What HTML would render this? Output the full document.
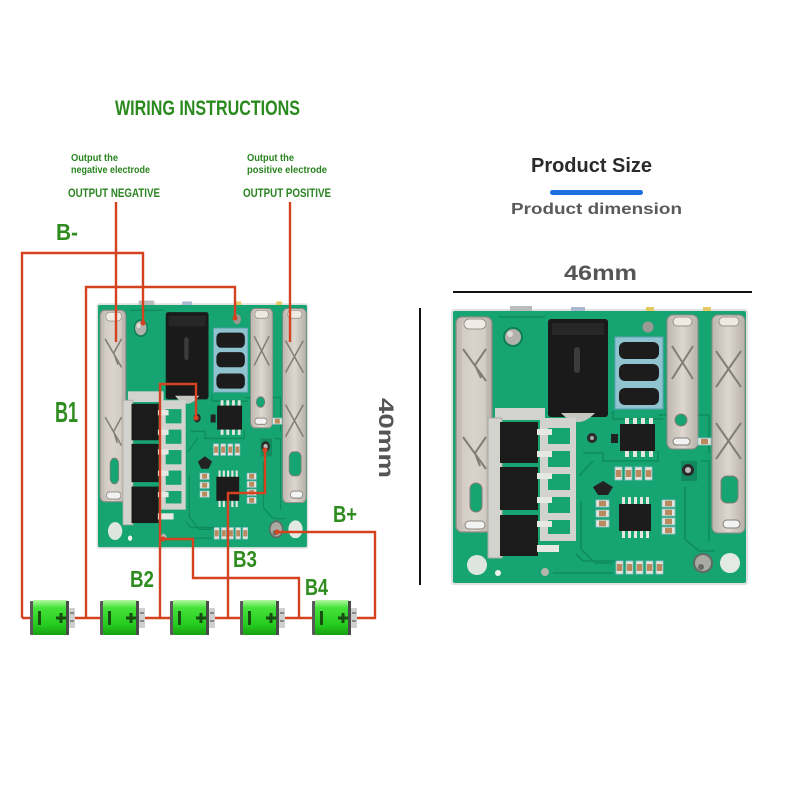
<!DOCTYPE html>
<html><head><meta charset="utf-8"><style>
html,body{margin:0;padding:0;background:#fff;}
svg{display:block;}
text{font-family:"Liberation Sans",sans-serif;}
</style></head><body>
<svg width="800" height="800" viewBox="0 0 800 800" xmlns="http://www.w3.org/2000/svg">
<defs>
<linearGradient id="bg" x1="0" y1="0" x2="0" y2="1">
<stop offset="0" stop-color="#b4f7a0"/><stop offset="0.22" stop-color="#46e23a"/><stop offset="0.7" stop-color="#26cc20"/><stop offset="1" stop-color="#17a013"/>
</linearGradient>
<linearGradient id="mt" x1="0" y1="0" x2="1" y2="0">
<stop offset="0" stop-color="#bdb6ae"/><stop offset="0.5" stop-color="#ddd7d0"/><stop offset="1" stop-color="#b7b0a8"/>
</linearGradient>
<g id="bat">
<rect x="0" y="1" width="4" height="34" rx="1" fill="#5a5a5a"/>
<rect x="3" y="0" width="35" height="35" rx="2" fill="url(#bg)"/>
<rect x="36" y="1" width="3" height="34" fill="#4a4a4a"/>
<rect x="39" y="8" width="6" height="20" rx="1" fill="#cfcfcf"/>
<rect x="40" y="12" width="4" height="2" fill="#888"/>
<rect x="40" y="20" width="4" height="2" fill="#888"/>
<rect x="8" y="11" width="3" height="14" fill="#184e10"/>
<rect x="26" y="16.5" width="10" height="3" fill="#184e10"/>
<rect x="29.5" y="13" width="3" height="10" fill="#184e10"/>
</g>
<g id="res">
<rect x="0" y="0" width="7" height="13" fill="#e4e4dd" stroke="#8fc0cb" stroke-width="0.8"/>
<rect x="0.8" y="3" width="5.4" height="7" fill="#b98a5e"/>
</g>
<g id="resh">
<rect x="0" y="0" width="13" height="7" fill="#e4e4dd" stroke="#8fc0cb" stroke-width="0.8"/>
<rect x="3" y="0.8" width="7" height="5.4" fill="#b98a5e"/>
</g>
<g id="board">
<rect x="-2" y="-2" width="297" height="276" rx="3" fill="#dde2de"/>
<rect x="57" y="-5" width="22" height="5" fill="#b9bcbc"/>
<rect x="118" y="-4" width="14" height="4" fill="#aab8d0"/>
<rect x="193" y="-4" width="8" height="4" fill="#e8c860"/>
<rect x="250" y="-4" width="8" height="4" fill="#e8c860"/>
<rect x="0" y="0" width="293" height="272" rx="2" fill="#17a473"/>
<g fill="none" stroke="#0e8c5d" stroke-width="1.6">
<path d="M130 142 H150 V150 H205 V140"/>
<path d="M126 165 L140 150"/>
<path d="M128 190 V238 L142 252 H160"/>
<path d="M232 176 V228 L246 240 H262"/>
<path d="M45 6 H92"/>
<path d="M206 104 H256 V142"/>
<path d="M100 262 H160"/>
<path d="M120 240 L130 250 H165"/>
<path d="M248 150 H256 V230"/>
<path d="M160 100 V108 H210"/>
</g>
<!-- left clip P- -->
<rect x="3" y="6" width="36" height="215" rx="6" fill="url(#mt)" stroke="#8e8983" stroke-width="1.2"/>
<rect x="9" y="10" width="24" height="206" rx="4" fill="#d8d2cb" opacity="0.7"/>
<rect x="11" y="8" width="22" height="10" rx="5" fill="#f1ebe6" stroke="#9a948e"/>
<path d="M10 38 L33 70 M33 38 L22 54 L28 67" stroke="#837d77" stroke-width="2" fill="none"/>
<path d="M10 126 L33 158 M33 126 L22 142 L27 155" stroke="#837d77" stroke-width="2" fill="none"/>
<rect x="17" y="172" width="12" height="29" rx="6" fill="#17a473" stroke="#837d77"/>
<rect x="12" y="210" width="20" height="8" rx="4" fill="#f2f2f2" stroke="#8a847e"/>
<!-- -B hole -->
<circle cx="60" cy="26" r="10" fill="#0f7e55"/>
<circle cx="60" cy="26" r="8" fill="#b2b2aa"/>
<circle cx="57" cy="23" r="3" fill="#dcdcd4"/>
<!-- DC jack -->
<rect x="95" y="8" width="60" height="98" rx="3" fill="#1a1a1a"/>
<rect x="99" y="12" width="52" height="12" fill="#272727"/>
<rect x="121" y="36" width="6" height="26" rx="3" fill="#3c3c3c"/>
<path d="M108 102 Q125 120 142 102 Z" fill="#c5c7c0"/>
<!-- B1 pad -->
<circle cx="195" cy="16" r="5.5" fill="#9a9a92"/>
<!-- diodes -->
<rect x="162" y="26" width="48" height="72" fill="#8ec3cf" stroke="#5fa2b0"/>
<rect x="166" y="31" width="40" height="17" rx="6" fill="#1c1c1c"/>
<rect x="166" y="53" width="40" height="17" rx="6" fill="#1c1c1c"/>
<rect x="166" y="77" width="40" height="17" rx="6" fill="#1c1c1c"/>
<!-- C+ clip -->
<rect x="214" y="4" width="31" height="134" rx="6" fill="url(#mt)" stroke="#8e8983"/>
<rect x="220" y="6" width="19" height="9" rx="4.5" fill="#efe8e3" stroke="#9a948e"/>
<path d="M219 35 L240 68 M240 35 L219 68" stroke="#837d77" stroke-width="2"/>
<circle cx="228" cy="109" r="6" fill="#17a473" stroke="#837d77"/>
<rect x="220" y="127" width="17" height="7" rx="3.5" fill="#f2f2f2" stroke="#837d77"/>
<!-- P+ clip -->
<rect x="259" y="4" width="33" height="218" rx="6" fill="url(#mt)" stroke="#8e8983"/>
<rect x="266" y="6" width="20" height="9" rx="4.5" fill="#efe8e3" stroke="#9a948e"/>
<path d="M263 40 L288 76 M288 40 L263 76" stroke="#837d77" stroke-width="2"/>
<path d="M263 112 L288 148 M288 112 L263 148" stroke="#837d77" stroke-width="2"/>
<rect x="268" y="165" width="17" height="27" rx="6" fill="#17a473" stroke="#837d77"/>
<rect x="270" y="209" width="17" height="8" rx="4" fill="#f2f2f2" stroke="#837d77"/>
<!-- MOSFET area -->
<rect x="42" y="97" width="50" height="12" fill="#d2d3ce"/>
<rect x="35" y="107" width="14" height="140" fill="#d2d3ce" stroke="#a9aaa4"/>
<path d="M87 107 H123 V230 H87 Z" fill="#d2d3ce"/>
<rect x="95" y="117" width="22" height="16" fill="#17a473"/>
<rect x="95" y="140" width="22" height="16" fill="#17a473"/>
<rect x="95" y="163" width="22" height="16" fill="#17a473"/>
<rect x="95" y="186" width="22" height="16" fill="#17a473"/>
<rect x="95" y="209" width="22" height="14" fill="#17a473"/>
<rect x="87" y="230" width="36" height="18" fill="#17a473"/>
<rect x="47" y="111" width="38" height="41" fill="#1b1b1b"/>
<rect x="47" y="156" width="38" height="43" fill="#1b1b1b"/>
<rect x="47" y="204" width="38" height="41" fill="#1b1b1b"/>
<g fill="#e8e8e2">
<rect x="84" y="118" width="15" height="6"/><rect x="84" y="140" width="15" height="6"/>
<rect x="84" y="162" width="15" height="6"/><rect x="84" y="186" width="15" height="6"/>
<rect x="84" y="210" width="15" height="6"/><rect x="84" y="234" width="22" height="7"/>
</g>
<!-- B2 pad -->
<circle cx="139" cy="127" r="5" fill="#2a2a2a"/>
<circle cx="139" cy="127" r="2" fill="#aaa"/>
<!-- IC1 -->
<g fill="#e6e6e0">
<rect x="172" y="107" width="4" height="7"/><rect x="180" y="107" width="4" height="7"/><rect x="188" y="107" width="4" height="7"/><rect x="196" y="107" width="4" height="7"/>
<rect x="172" y="139" width="4" height="7"/><rect x="180" y="139" width="4" height="7"/><rect x="188" y="139" width="4" height="7"/><rect x="196" y="139" width="4" height="7"/>
</g>
<rect x="167" y="113" width="35" height="27" fill="#1c1c1c"/>
<rect x="158" y="123" width="7" height="9" fill="#222"/>
<!-- B3 pad -->
<rect x="228" y="150" width="16" height="20" fill="#128a5f"/>
<circle cx="235" cy="159" r="6" fill="#2a2a2a"/>
<circle cx="235" cy="159" r="3" fill="#bbb"/>
<!-- IC2 -->
<g fill="#e6e6e0">
<rect x="169" y="186" width="3" height="8"/><rect x="175" y="186" width="3" height="8"/><rect x="181" y="186" width="3" height="8"/><rect x="187" y="186" width="3" height="8"/><rect x="193" y="186" width="3" height="8"/>
<rect x="169" y="219" width="3" height="8"/><rect x="175" y="219" width="3" height="8"/><rect x="181" y="219" width="3" height="8"/><rect x="187" y="219" width="3" height="8"/><rect x="193" y="219" width="3" height="8"/>
</g>
<rect x="166" y="193" width="32" height="27" fill="#1c1c1c"/>
<path d="M140 176 L150 170 L160 176 L155 184 H145 Z" fill="#222"/>
<!-- resistors -->
<use href="#res" x="162" y="156"/><use href="#res" x="172" y="156"/><use href="#res" x="182" y="156"/><use href="#res" x="192" y="156"/>
<use href="#resh" x="143" y="189"/><use href="#resh" x="143" y="199"/><use href="#resh" x="143" y="209"/>
<use href="#resh" x="209" y="189"/><use href="#resh" x="209" y="198"/><use href="#resh" x="209" y="207"/><use href="#resh" x="209" y="216"/>
<use href="#res" x="163" y="250"/><use href="#res" x="173" y="250"/><use href="#res" x="183" y="250"/><use href="#res" x="193" y="250"/><use href="#res" x="203" y="250"/>
<use href="#resh" x="245" y="127"/>
<!-- holes -->
<circle cx="24" cy="254" r="10" fill="#dde5df"/>
<circle cx="45" cy="262" r="3" fill="#eef2ef"/>
<circle cx="92" cy="261" r="4" fill="#b5b5ad"/>
<circle cx="250" cy="252" r="10" fill="#5e6a62"/>
<circle cx="250" cy="252" r="8" fill="#a9aaa2"/>
<circle cx="248" cy="256" r="3" fill="#6b6b66"/>
<circle cx="277" cy="252" r="10" fill="#e3e9e5"/>
</g>
</defs>

<!-- ===== LEFT PANEL ===== -->
<text x="115" y="115" font-size="21" font-weight="bold" fill="#2a8a1e" textLength="185" lengthAdjust="spacingAndGlyphs">WIRING INSTRUCTIONS</text>
<g font-weight="bold" fill="#2a8420">
<text x="71" y="161" font-size="10" textLength="47" lengthAdjust="spacingAndGlyphs">Output the</text>
<text x="71" y="173" font-size="10" textLength="79" lengthAdjust="spacingAndGlyphs">negative electrode</text>
<text x="68" y="197" font-size="12" textLength="92" lengthAdjust="spacingAndGlyphs">OUTPUT NEGATIVE</text>
<text x="247" y="161" font-size="10" textLength="47" lengthAdjust="spacingAndGlyphs">Output the</text>
<text x="247" y="173" font-size="10" textLength="80" lengthAdjust="spacingAndGlyphs">positive electrode</text>
<text x="243" y="197" font-size="12" textLength="88" lengthAdjust="spacingAndGlyphs">OUTPUT POSITIVE</text>
</g>

<use href="#board" transform="translate(98,305) scale(0.713,0.89)"/>

<g fill="none" stroke="#d5421f" stroke-width="2.4" stroke-linejoin="miter">
<path d="M116 202 V342"/>
<path d="M290 202 V342"/>
<path d="M143 323 V253 H22 V618"/>
<path d="M235 318 V287 H86 V618"/>
<path d="M22 618 H375 V532 H277"/>
<path d="M160 618 V384 H196 V418"/>
<path d="M228 618 V493 H265 V450"/>
<path d="M299 618 V578 H193 V539 H163"/>
</g>
<g fill="#d5421f">
<circle cx="143" cy="323" r="2.5"/><circle cx="235" cy="318" r="2.5"/><circle cx="196" cy="418" r="2.5"/>
<circle cx="265" cy="450" r="2.5"/><circle cx="163" cy="539" r="2.5"/><circle cx="277" cy="532" r="2.5"/>
</g>

<use href="#bat" x="30" y="600"/>
<use href="#bat" x="100" y="600"/>
<use href="#bat" x="170" y="600"/>
<use href="#bat" x="240" y="600"/>
<use href="#bat" x="312" y="600"/>

<g font-weight="bold" fill="#2f8c1f">
<text x="56" y="240" font-size="23" textLength="22" lengthAdjust="spacingAndGlyphs">B-</text>
<text x="55" y="422" font-size="29" textLength="23" lengthAdjust="spacingAndGlyphs">B1</text>
<text x="130" y="587" font-size="23" textLength="24" lengthAdjust="spacingAndGlyphs">B2</text>
<text x="233" y="567" font-size="23" textLength="24" lengthAdjust="spacingAndGlyphs">B3</text>
<text x="305" y="595" font-size="23" textLength="23" lengthAdjust="spacingAndGlyphs">B4</text>
<text x="333" y="522" font-size="23" textLength="24" lengthAdjust="spacingAndGlyphs">B+</text>
</g>

<!-- ===== RIGHT PANEL ===== -->
<text x="531" y="172" font-size="20" font-weight="bold" fill="#2b2b2b" textLength="121" lengthAdjust="spacingAndGlyphs">Product Size</text>
<rect x="550" y="190" width="93" height="5" rx="2.5" fill="#1d6fe0"/>
<text x="511" y="214" font-size="16" font-weight="bold" fill="#5a5a5a" textLength="171" lengthAdjust="spacingAndGlyphs">Product dimension</text>
<text x="564" y="280" font-size="21" font-weight="bold" fill="#555" textLength="73" lengthAdjust="spacingAndGlyphs">46mm</text>
<line x1="453" y1="292" x2="752" y2="292" stroke="#111" stroke-width="2"/>
<line x1="420" y1="308" x2="420" y2="585" stroke="#111" stroke-width="2"/>
<text transform="translate(379,438) rotate(90)" x="0" y="0" text-anchor="middle" font-size="21" font-weight="bold" fill="#555" textLength="80" lengthAdjust="spacingAndGlyphs">40mm</text>

<use href="#board" transform="translate(453,311)"/>
</svg>
</body></html>
